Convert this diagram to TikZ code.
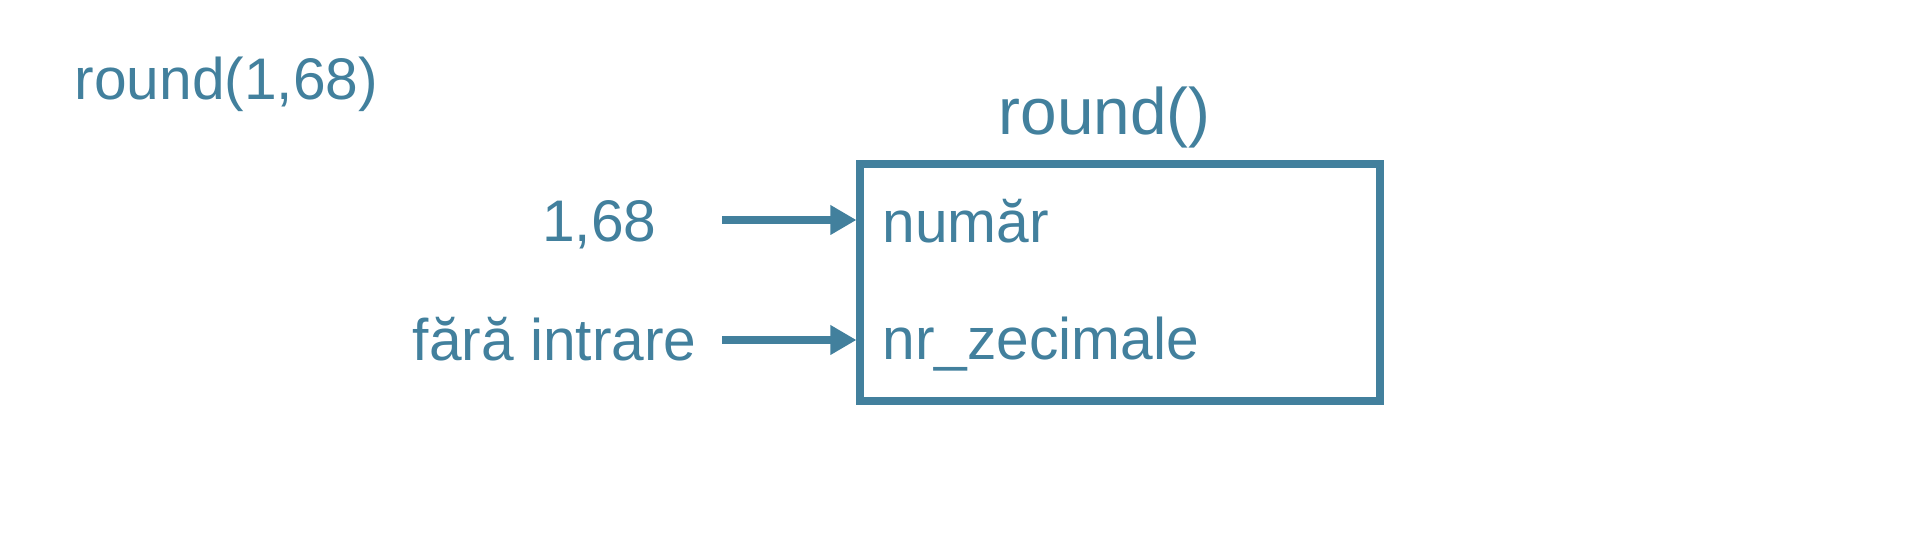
\documentclass[tikz,border=0pt]{standalone}
\usepackage{fontspec}
\setmainfont{Liberation Sans}
\usetikzlibrary{arrows.meta}
\definecolor{fnblue}{RGB}{66,128,157}

\begin{document}
\begin{tikzpicture}[
    txt/.style={text=fnblue, inner sep=0pt, anchor=base west, font=\fontsize{16.7}{20}\selectfont},
    arr/.style={draw=fnblue, line width=2pt, -{Triangle[length=2.6mm,width=2.8mm]}}
  ]
      \path[use as bounding box, fill=white] (0,0) rectangle (19.16,5.60);
      \node[txt] (call) at (0.74,4.60) {round(1,68)};
      \node[draw=fnblue, line width=2pt, minimum width=5.20cm, minimum height=2.37cm, inner sep=0pt] (fn) at (11.20,2.775) {};
      \node[txt, font=\fontsize{18.7}{22}\selectfont] (fname) at (9.98,4.25) {round()};
      \node[txt] (numar) at (8.82,3.17) {număr};
      \node[txt] (zec) at (8.82,2.00) {nr\_zecimale};
      \node[txt, anchor=base east] (val) at (6.57,3.18) {1,68};
      \node[txt] (none) at (4.12,1.99) {fără intrare};
      \coordinate (a1) at (7.22,3.40);
      \coordinate (a2) at (7.22,2.20);
      \draw[arr] (a1) -- (a1 -| fn.west);
      \draw[arr] (a2) -- (a2 -| fn.west);
    \end{tikzpicture}
\end{document}
